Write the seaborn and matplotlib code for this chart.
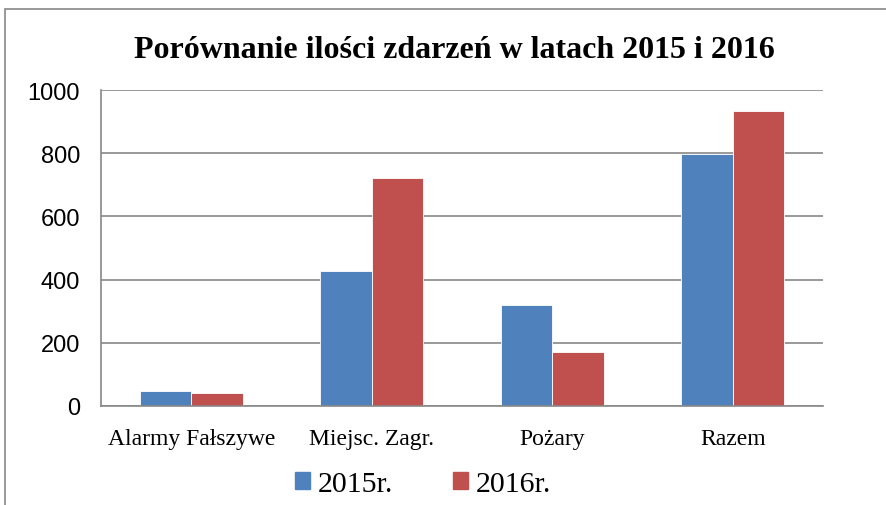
import matplotlib
matplotlib.use('Agg')
import matplotlib.pyplot as plt
import numpy as np
import pandas as pd
import seaborn as sns
from matplotlib.patches import Rectangle

categories = ['Alarmy Fałszywe', 'Miejsc. Zagr.', 'Pożary', 'Razem']
series = ['2015r.', '2016r.']
values_2015 = [49, 428, 320, 797]
values_2016 = [41, 722, 170, 933]
yticks = [0, 200, 400, 600, 800, 1000]

df = pd.DataFrame({
    'kategoria': categories * 2,
    'rok': [series[0]] * 4 + [series[1]] * 4,
    'wartosc': values_2015 + values_2016,
})

sns.set_style('white')
plt.rcParams['font.family'] = ['Liberation Serif', 'DejaVu Serif']
plt.rcParams['text.color'] = 'black'
plt.rcParams['xtick.color'] = 'black'
plt.rcParams['ytick.color'] = 'black'

fig = plt.figure(figsize=(8.86, 5.06), dpi=100)
ax = fig.add_axes([101 / 886, 1 - 407 / 506, 722 / 886, 316 / 506])

palette = {'2015r.': '#4F81BD', '2016r.': '#C0504D'}
sns.barplot(data=df, x='kategoria', y='wartosc', hue='rok', palette=palette,
            order=categories, hue_order=series, width=0.57, saturation=1,
            edgecolor='white', linewidth=0.6, ax=ax, legend=False)

ax.set_xlim(-0.5, len(categories) - 0.5)
ax.set_ylim(0, 1000)
ax.set_yticks(yticks)
ax.set_yticklabels([str(t) for t in yticks], family='Liberation Sans', fontsize=17)
ax.yaxis.grid(True, color='#888888', linewidth=1.2)
ax.set_axisbelow(True)
ax.set_xlabel('')
ax.set_ylabel('')

# category ticks on boundaries
ax.set_xticks(np.arange(-0.5, len(categories), 1.0))
ax.set_xticklabels([])
ax.set_xticks(np.arange(len(categories)), minor=True)
ax.set_xticklabels(categories, minor=True, fontsize=17)
ax.tick_params(axis='x', which='major', length=6, color='#888888', width=1.2, direction='out')
ax.tick_params(axis='x', which='minor', length=0, pad=16)
ax.tick_params(axis='y', length=6, color='#888888', width=1.2, direction='out', pad=9)

for side in ['top', 'right']:
    ax.spines[side].set_visible(False)
for side in ['left', 'bottom']:
    ax.spines[side].set_color('#888888')
    ax.spines[side].set_linewidth(1.2)

fig.text(454 / 886, 1 - 50 / 506, 'Porównanie ilości zdarzeń w latach 2015 i 2016',
         ha='center', va='center', fontsize=23, fontweight='bold')

handles = [Rectangle((0, 0), 1, 1, color=palette[s]) for s in series]
fig.legend(handles, series, loc='center', bbox_to_anchor=(423 / 886, 1 - 485 / 506),
           ncol=2, frameon=False, fontsize=21.5, handlelength=0.5, handleheight=0.5,
           handletextpad=0.25, columnspacing=2.0)

# outer chart frame
frame = Rectangle((5 / 886, -0.5), 2, 1.5 - 10 / 506, transform=fig.transFigure,
                  fill=False, edgecolor='#888888', linewidth=1.2)
fig.patches.append(frame)

fig.savefig('out.png', dpi=100)
